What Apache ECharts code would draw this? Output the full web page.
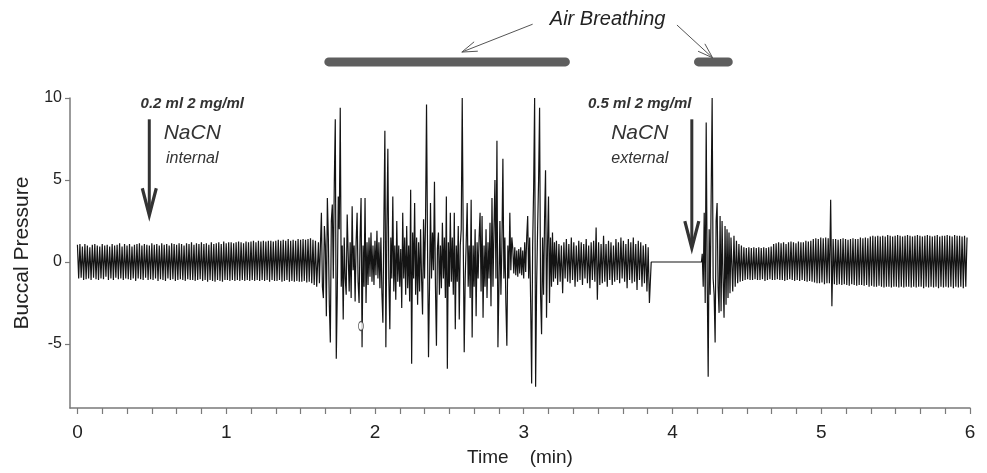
<!DOCTYPE html>
<html>
<head>
<meta charset="utf-8">
<script src="https://cdn.jsdelivr.net/npm/echarts@6/dist/echarts.min.js"></script>
<style>
  html, body { margin: 0; padding: 0; background: #ffffff; }
  #chart { width: 987px; height: 473px; }
</style>
</head>
<body>
<div id="chart"></div>
<script>
// ---- Buccal pressure recording, sampled segments (time in min, pressure in arbitrary units) ----

// Axis ticks
const timeLabels = [0, 1, 2, 3, 4, 5, 6];
const timeMinorStepSec = 10;
const pressureLabels = [-5, 0, 5, 10];

// Control breathing before the internal NaCN dose
const segAStart = 0;
const segAStepSec = 0.5;
const segAValues = [
  1.05,-1.0,1.1,-0.95,0.95,-1.1,1.1,-1.05,1.0,-1.0,0.9,-1.1,1.05,-0.95,1.1,-1.05,1.0,-1.1,0.95,-1.0,
  1.1,-1.05,1.0,-0.9,1.05,-1.1,0.95,-1.0,1.1,-1.1,1.0,-0.95,1.05,-1.05,1.15,-1.0,0.95,-1.1,1.1,-1.0,
  1.0,-1.05,1.1,-1.1,0.95,-1.0,1.05,-1.15,1.1,-1.0,1.15,-1.05,1.0,-1.1,1.1,-0.95,1.05,-1.1,1.0,-1.05,
  1.15,-1.1,1.05,-1.0,1.1,-1.15,1.0,-1.05,1.15,-1.1,1.05,-1.15,1.1,-1.0,1.0,-1.1,1.15,-1.05,1.1,-1.15,
  1.05,-1.1,1.15,-1.05,1.1,-1.1,1.0,-1.15,1.15,-1.05,1.1,-1.1,1.2,-1.1,1.05,-1.15,1.15,-1.1,1.1,-1.05,
  1.2,-1.15,1.1,-1.1,1.15,-1.2,1.05,-1.1,1.2,-1.15,1.1,-1.2,1.15,-1.1,1.2,-1.15,1.1,-1.2,1.25,-1.1,
  1.15,-1.1,1.2,-1.15,1.2,-1.1,1.15,-1.15,1.2,-1.1,1.25,-1.15,1.2,-1.1,1.15,-1.15,1.25,-1.1,1.2,-1.15,
  1.25,-1.1,1.3,-1.15,1.2,-1.1,1.3,-1.15,1.25,-1.1,1.3,-1.15,1.25,-1.1,1.3,-1.2,1.3,-1.1,1.25,-1.15,
  1.3,-1.15,1.35,-1.1,1.3,-1.2,1.35,-1.15,1.3,-1.1,1.4,-1.2,1.3,-1.15,1.35,-1.2,1.3,-1.15,1.4,-1.2,
  1.35,-1.2,1.4,-1.15,1.35,-1.25,1.4,-1.2,1.45,-1.3,1.35,-1.4,1.3,-1.5
];

// Air-breathing episode after the internal dose
const segBStart = 1.62;
const segBStepSec = 0.4;
const segBValues = [
  1.2,-1.3,1.0,3.0,-1.5,-2.2,2.2,1.0,-3.3,3.9,1.5,-2.6,-4.9,2.5,3.5,-1.0,4.8,8.7,-5.9,-2.0,
  4.0,2.0,9.4,-1.5,1.0,-3.5,1.5,-1.0,-2.0,2.9,0.5,-1.8,1.2,-2.2,3.4,-0.5,1.0,-2.4,1.2,3.0,
  -1.2,-2.5,1.5,3.9,-5.2,1.0,-1.5,3.9,-2.5,1.2,-1.4,1.5,-0.9,1.8,-1.2,1.0,-1.4,1.3,-0.8,1.9,
  -1.0,1.2,-1.6,1.5,-1.9,-3.7,2.5,8.0,-5.2,2.0,6.9,-1.0,-4.1,1.5,-1.0,4.0,-1.8,1.0,-2.3,2.5,
  -1.2,1.0,-1.5,0.8,-2.8,3.0,-1.0,1.5,-2.0,2.2,-1.6,1.0,-2.4,4.4,-6.2,1.8,-1.0,3.6,-2.0,1.5,
  -2.6,1.2,-1.8,2.0,-1.0,-3.2,2.6,-1.0,2.5,9.6,1.0,-5.8,-1.5,3.6,-1.0,1.8,-0.5,4.9,-1.5,-5.1,
  0.8,1.8,-2.0,1.0,-1.6,2.4,-1.0,1.5,-2.2,4.0,-6.5,1.2,-1.5,3.0,-1.2,1.5,-2.0,3.0,-4.1,1.0,
  -1.2,2.2,-3.5,1.0,2.0,10.0,1.5,-5.5,-1.0,1.2,3.6,-1.5,1.0,-2.2,3.8,-4.6,1.0,-1.5,2.0,-3.3,
  1.2,-1.0,1.5,3.0,-1.8,2.8,-3.4,1.0,-1.5,2.0,-2.2,1.2,-1.0,2.4,-2.7,3.9,-1.5,2.0,5.0,-1.0,
  7.4,-5.2,-1.5,2.5,-2.0,1.0,6.3,-1.0,1.5,-2.5,-5.1,1.0,-1.0,3.0,-0.5,1.5,0.8,-0.7,0.9,-0.8,
  0.7,-0.9,0.8,-0.7,0.9,-0.8,0.7,-1.0,1.2,-0.6,1.5,2.8,-1.0,1.5,-2.5,-7.4,1.0,4.5,10.0,-7.6,
  -1.5,2.0,5.0,9.4,-2.0,-4.4,1.5,-2.0,2.5,5.6,-3.4,1.0,4.0,-2.5,1.5,-1.5,1.8,-1.2,1.2,-1.0
];

// Recovery breathing before the external dose
const segCStart = 3.22;
const segCStepSec = 0.5;
const segCValues = [
  1.3,-1.4,1.1,-1.2,1.0,-1.9,1.2,-1.0,1.4,-1.2,1.1,-1.3,1.5,-1.1,1.2,-1.5,1.0,-1.2,1.3,-1.1,
  1.2,-1.4,1.1,-1.0,1.4,-1.3,1.0,-1.6,1.2,-1.1,1.3,-1.2,2.1,-2.3,1.2,-1.4,1.1,-1.3,1.6,-1.2,
  1.1,-1.5,1.3,-1.1,1.2,-1.4,1.0,-1.2,1.4,-1.1,1.2,-1.3,1.5,-1.0,1.3,-1.2,1.1,-1.6,1.4,-1.1,
  1.2,-1.3,1.5,-1.2,1.1,-1.7,1.3,-1.1,1.2,-1.5,1.0,-1.3,1.1,-1.8,0.9,-2.5
];

// Apnoea: no buccal movement
const apnoeaLine = [[3.857, 0], [4.195, 0]];

// Second air-breathing burst after the external dose
const segEStart = 4.20;
const segEStepSec = 0.4;
const segEValues = [
  0.5,-1.5,3.0,-2.5,8.5,-1.0,-7.0,2.0,-2.0,4.0,10.0,-1.0,-2.0,-4.9,2.5,3.6,-1.5,-3.1,2.8,-3.0,
  2.5,-1.0,-3.4,2.2,-2.6,2.0,-2.2,1.8,-1.9,1.5
];

// Breathing to the end of the record
const segFStart = 4.405;
const segFStepSec = 0.5;
const segFValues = [
  -1.8,1.6,-1.5,1.3,-1.3,1.1,-1.2,1.0,-1.15,0.9,-1.1,0.85,-1.05,0.9,-1.1,0.85,-1.1,0.9,-1.05,0.85,
  -1.1,0.9,-1.1,0.85,-1.05,0.9,-1.15,0.85,-1.1,0.9,-1.05,0.95,-1.1,1.1,-1.1,1.15,-1.05,1.2,-1.1,1.15,
  -1.1,1.2,-1.15,1.1,-1.1,1.2,-1.05,1.25,-1.1,1.2,-1.15,1.15,-1.1,1.25,-1.15,1.2,-1.1,1.2,-1.15,1.3,
  -1.2,1.25,-1.15,1.3,-1.2,1.4,-1.25,1.45,-1.3,1.4,-1.3,1.5,-1.25,1.45,-1.35,1.5,-1.3,1.45,-1.3,3.8,
  -2.7,1.4,-1.35,1.4,-1.4,1.35,-1.35,1.4,-1.4,1.45,-1.35,1.4,-1.4,1.35,-1.45,1.4,-1.35,1.45,-1.4,1.4,
  -1.45,1.4,-1.4,1.5,-1.4,1.45,-1.45,1.5,-1.4,1.45,-1.5,1.55,-1.45,1.6,-1.5,1.55,-1.5,1.6,-1.45,1.55,
  -1.5,1.6,-1.55,1.55,-1.5,1.65,-1.5,1.6,-1.55,1.55,-1.5,1.6,-1.5,1.65,-1.55,1.6,-1.5,1.55,-1.55,1.6,
  -1.5,1.65,-1.5,1.6,-1.55,1.55,-1.5,1.6,-1.55,1.65,-1.5,1.6,-1.5,1.55,-1.6,1.6,-1.5,1.65,-1.55,1.6,
  -1.5,1.55,-1.55,1.6,-1.5,1.65,-1.6,1.55,-1.5,1.6,-1.55,1.6,-1.5,1.65,-1.55,1.6,-1.5,1.55,-1.6,1.65,
  -1.5,1.6,-1.55,1.6,-1.5,1.55,-1.6,1.6,-1.5,1.5
];

// Small event marker on the trace
const eventMarker = [[1.906, -3.9]];

// Annotation anchors (time in min, pressure units)
const doses = [
  { time: 0.483, top: 8.7, tip: 2.85, labelTime: 0.772, amount: '0.2 ml 2 mg/ml', drug: 'NaCN', route: 'internal' },
  { time: 4.13, top: 8.7, tip: 0.85, labelTime: 3.78, amount: '0.5 ml 2 mg/ml', drug: 'NaCN', route: 'external' }
];
const doseLabelLevels = [9.65, 7.85, 6.3];
const airBreathingPeriods = [[1.69, 3.28], [4.175, 4.375]];
const airBreathingLevel = 12.2;
const airBreathingLabel = { time: 3.564, level: 14.8, text: 'Air Breathing' };
const airBreathingPointers = [
  { from: [3.06, 14.5], to: [2.584, 12.8] },
  { from: [4.03, 14.45], to: [4.27, 12.45] }
];

function samples(startMin, stepSec, values) {
  return values.map((v, i) => [startMin + i * stepSec / 60, v]);
}

const trace = [].concat(
  samples(segAStart, segAStepSec, segAValues),
  samples(segBStart, segBStepSec, segBValues),
  samples(segCStart, segCStepSec, segCValues),
  apnoeaLine,
  samples(segEStart, segEStepSec, segEValues),
  samples(segFStart, segFStepSec, segFValues)
);

const timeTickValues = [];
for (let s = 0; s <= 360; s += timeMinorStepSec) timeTickValues.push(s / 60);

const axisGrey = '#7a7a7a';
const narrowFont = '"Liberation Sans Narrow", "Liberation Sans", Arial, sans-serif';
const sansFont = '"Liberation Sans", Arial, sans-serif';

const chart = echarts.init(document.getElementById('chart'), null, { renderer: 'canvas' });

chart.setOption({
  animation: false,
  backgroundColor: '#ffffff',
  grid: { left: 70, right: 17, top: 98, bottom: 65, containLabel: false, outerBoundsMode: 'none' },
  xAxis: {
    type: 'value',
    min: -0.05,
    max: 6,
    name: 'Time    (min)',
    nameLocation: 'middle',
    nameGap: 40,
    nameTextStyle: { fontFamily: narrowFont, fontSize: 19, color: '#222' },
    axisLine: { show: true, onZero: false, lineStyle: { color: axisGrey, width: 1.5 } },
    axisTick: { show: true, customValues: timeTickValues, length: 6, inside: false, lineStyle: { color: axisGrey, width: 1.2 } },
    axisLabel: { customValues: timeLabels, margin: 15, fontFamily: narrowFont, fontSize: 19, color: '#222' },
    splitLine: { show: false }
  },
  yAxis: {
    type: 'value',
    min: -8.9,
    max: 10,
    name: 'Buccal Pressure',
    nameLocation: 'middle',
    nameGap: 37,
    nameTextStyle: { fontFamily: sansFont, fontSize: 21, color: '#222' },
    axisLine: { show: true, onZero: false, lineStyle: { color: axisGrey, width: 1.5 } },
    axisTick: { show: true, customValues: pressureLabels, length: 5, lineStyle: { color: axisGrey, width: 1.2 } },
    axisLabel: { customValues: pressureLabels, margin: 8, fontFamily: sansFont, fontSize: 16, color: '#222' },
    splitLine: { show: false }
  },
  series: [
    {
      type: 'line',
      data: trace,
      showSymbol: false,
      sampling: null,
      lineStyle: { color: '#141414', width: 1.2 },
      z: 2
    },
    {
      type: 'scatter',
      data: eventMarker,
      symbol: 'circle',
      symbolSize: [5, 9],
      itemStyle: { color: '#ffffff', borderColor: '#333', borderWidth: 1 },
      z: 3
    }
  ]
});

// Annotations are placed from data anchors via the chart's own coordinate system
const px = (t, v) => chart.convertToPixel({ gridIndex: 0 }, [t, v]);
const ink = '#333333';
const graphics = [];

doses.forEach(d => {
  const top = px(d.time, d.top);
  const tip = px(d.time, d.tip);
  graphics.push({
    type: 'line', shape: { x1: top[0], y1: top[1], x2: tip[0], y2: tip[1] - 2 },
    style: { stroke: ink, lineWidth: 3 }, silent: true
  });
  graphics.push({
    type: 'polyline',
    shape: { points: [[tip[0] - 7, tip[1] - 27], [tip[0], tip[1]], [tip[0] + 7, tip[1] - 27]] },
    style: { stroke: ink, lineWidth: 3.2, fill: null, lineJoin: 'miter' }, silent: true
  });
  const texts = [
    { text: d.amount, size: 15, weight: 'bold' },
    { text: d.drug, size: 21, weight: 'normal' },
    { text: d.route, size: 16, weight: 'normal' }
  ];
  texts.forEach((tx, k) => {
    const p = px(d.labelTime, doseLabelLevels[k]);
    graphics.push({
      type: 'text', x: p[0], y: p[1], silent: true,
      style: {
        text: tx.text, fill: ink, align: 'center', verticalAlign: 'middle',
        fontFamily: sansFont, fontStyle: 'italic', fontWeight: tx.weight, fontSize: tx.size
      }
    });
  });
});

airBreathingPeriods.forEach(([t0, t1]) => {
  const a = px(t0, airBreathingLevel);
  const b = px(t1, airBreathingLevel);
  graphics.push({
    type: 'line', shape: { x1: a[0], y1: a[1], x2: b[0], y2: b[1] },
    style: { stroke: '#5e5e5e', lineWidth: 9, lineCap: 'round' }, silent: true
  });
});

const lab = px(airBreathingLabel.time, airBreathingLabel.level);
graphics.push({
  type: 'text', x: lab[0], y: lab[1], silent: true,
  style: {
    text: airBreathingLabel.text, fill: '#222', align: 'center', verticalAlign: 'middle',
    fontFamily: sansFont, fontStyle: 'italic', fontSize: 20
  }
});

airBreathingPointers.forEach(p => {
  const a = px(p.from[0], p.from[1]);
  const b = px(p.to[0], p.to[1]);
  const ang = Math.atan2(a[1] - b[1], a[0] - b[0]);
  const len = 16, spread = 0.32;
  const h1 = [b[0] + len * Math.cos(ang + spread), b[1] + len * Math.sin(ang + spread)];
  const h2 = [b[0] + len * Math.cos(ang - spread), b[1] + len * Math.sin(ang - spread)];
  graphics.push({
    type: 'line', shape: { x1: a[0], y1: a[1], x2: b[0], y2: b[1] },
    style: { stroke: '#555', lineWidth: 1 }, silent: true
  });
  graphics.push({
    type: 'polyline', shape: { points: [h1, b, h2] },
    style: { stroke: '#555', lineWidth: 1, fill: null }, silent: true
  });
});

chart.setOption({ graphic: graphics });
</script>
</body>
</html>
